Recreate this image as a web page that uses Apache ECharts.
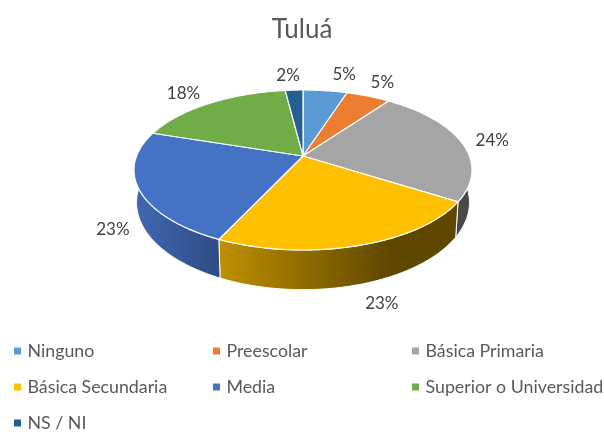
<!DOCTYPE html>
<html><head><meta charset="utf-8">
<style>html,body{margin:0;padding:0;background:#fff}#c{width:604px;height:435px}</style>
<script src="https://cdn.jsdelivr.net/npm/echarts@6/dist/echarts.min.js"></script>
</head><body><div id="c"></div>
<script>
const titleText = 'Tuluá';
const categories = ['Ninguno','Preescolar','Básica Primaria','Básica Secundaria','Media','Superior o Universidad','NS / NI'];
const percents = [5,5,24,23,23,18,2];
const capColors = ['#5B9BD5','#ED7D31','#A5A5A5','#FFC000','#4472C4','#70AD47','#255E91'];
const wallStops = [
  ['#3f6d96','#3f6d96'],['#a85a24','#a85a24'],['#3c3c3c','#4a4a4a'],
  ['#bf9000','#5f4700'],['#4069b4','#2e4c86'],['#50803a','#50803a'],['#1c4568','#1c4568']
];
// layout only
const center = {x:303, y:156}, P = {A:166.4, B:77.55, k:0.175};
const base = {sx:0.985, sv:1.09, d:31.2};
const labelNudge = [[19,-16],[14,-13.5],[31,-1],[23,58.5],[-26,40],[-26,-10],[-6,-15]];
const legendCols = [14,213,412], legendRows = [343,379,415];

const total = percents.reduce((a,b)=>a+b,0);
let run = 0;
const ranges = percents.map(v=>{const s=run; run+=v; return [s,run];});
function project(t){ // t = share of the total, clockwise from 12 o'clock
  const a=t/total*2*Math.PI, X=Math.sin(a), Y=Math.cos(a), q=1+P.k*Y;
  return [P.A*X/q, P.B*Y/q];
}
const toPx=(u,v)=>[center.x+u, center.y-v];
const topPx=t=>{const [u,v]=project(t);return toPx(u,v);};
const botPx=t=>{const [u,v]=project(t);return toPx(u*base.sx, base.sv*v-base.d);};
function arc(f,s,e){const n=Math.max(2,Math.ceil((e-s)*3)),o=[];for(let i=0;i<=n;i++)o.push(f(s+(e-s)*i/n));return o;}

const wallSeries = {
  type:'custom', coordinateSystem:'none', silent:true, z:1,
  data: ranges.map((r,i)=>[r[0],r[1],i]),
  renderItem(params,api){
    const s=api.value(0), e=api.value(1), i=api.value(2);
    const t=arc(topPx,s,e), b=arc(botPx,s,e).reverse();
    const xs=t.map(p=>p[0]);
    const x0=Math.min(...xs), x1=Math.max(...xs);
    return {type:'polygon', shape:{points:t.concat(b)}, style:{
      fill:{type:'linear',global:true,x:x0,y:0,x2:x0+(x1-x0)*(i===3?0.72:1),y2:0,
        colorStops:[{offset:0,color:wallStops[i][0]},{offset:1,color:wallStops[i][1]}]},
      stroke:'#ffffff', lineWidth:1
    }};
  }
};
const capSeries = categories.map((name,i)=>({
  type:'custom', name, coordinateSystem:'none', z:2,
  itemStyle:{color:capColors[i]},
  data:[[ranges[i][0],ranges[i][1],percents[i]]],
  renderItem(params,api){
    const s=api.value(0), e=api.value(1), v=api.value(2);
    const pts=[toPx(0,0)].concat(arc(topPx,s,e));
    const m=topPx((s+e)/2);
    return {type:'group',children:[
      {type:'polygon',shape:{points:pts},style:{fill:capColors[i],stroke:'#ffffff',lineWidth:1.2,lineJoin:'round'}},
      {type:'text',z2:10,style:{text:v+'%',x:m[0]+labelNudge[i][0],y:m[1]+labelNudge[i][1],
        align:'center',verticalAlign:'middle',fontFamily:'Lato',fontSize:17,fill:'#404040'}}
    ]};
  }
}));
const legends = categories.map((name,i)=>({
  data:[{name,icon:'rect'}], orient:'horizontal',
  left:legendCols[i%3], top:legendRows[Math.floor(i/3)]-1,
  padding:0, itemWidth:7, itemHeight:7, selectedMode:false,
  textStyle:{fontFamily:'Lato',fontSize:17.8,color:'#595959',padding:[0,0,0,1.5]}
}));
const chart = echarts.init(document.getElementById('c'),null,{renderer:'canvas'});
chart.setOption({
  animation:false, backgroundColor:'#ffffff',
  title:{text:titleText,left:'center',top:12,textStyle:{fontFamily:'Lato',fontSize:26,fontWeight:'normal',color:'#595959'}},
  legend:legends,
  series:[wallSeries].concat(capSeries)
});
</script></body></html>
